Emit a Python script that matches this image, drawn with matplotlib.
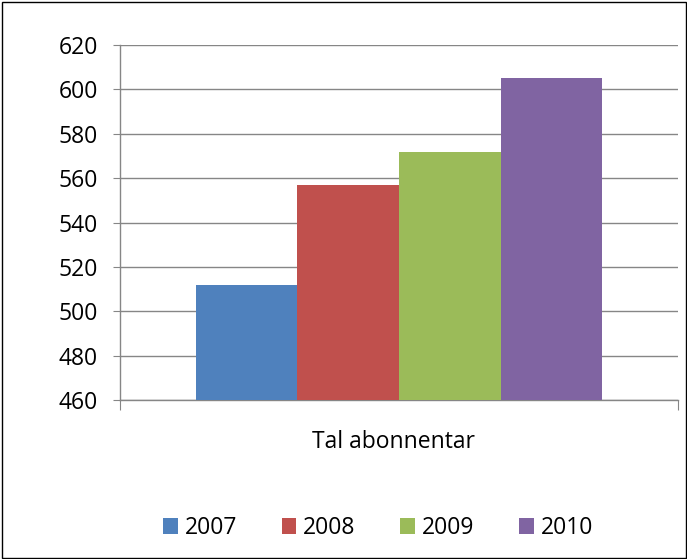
import matplotlib
matplotlib.use("Agg")
import matplotlib.pyplot as plt
from matplotlib.patches import Rectangle, Patch

ar = ["2007", "2008", "2009", "2010"]
verdiar = [512, 557, 572, 605]
fargar = ["#4f81bd", "#c0504d", "#9bbb59", "#8064a2"]
kategori = "Tal abonnentar"
yticks = [460, 480, 500, 520, 540, 560, 580, 600, 620]

plt.rcParams["font.family"] = ["Open Sans", "DejaVu Sans"]
fs = 16.5

W, H = 687, 559
fig = plt.figure(figsize=(W / 100, H / 100), dpi=100)
fig.patches.append(Rectangle((1.5 / W, 1.5 / H), 1 - 3 / W, 1 - 3 / H,
                             transform=fig.transFigure, fill=False,
                             edgecolor="#000000", linewidth=1.0))

ax = fig.add_axes([120 / W, 1 - 400 / H, 558 / W, 355 / H])

# stolpane fyller midten av kategorien
start, bredd = 0.136, 0.182
for i, (a, v) in enumerate(zip(ar, verdiar)):
    ax.bar(start + bredd * (i + 0.5), v - yticks[0], bottom=yticks[0],
           width=bredd, color=fargar[i], label=a, zorder=3)

ax.set_xlim(0, 1)
ax.set_ylim(yticks[0], yticks[-1])
ax.set_yticks(yticks)
ax.set_yticklabels([str(t) for t in yticks], fontsize=fs)
ax.set_xticks([0, 1])
ax.set_xticklabels(["", ""])
ax.grid(axis="y", color="#868686", linewidth=1.0, zorder=0)
for s in ["top", "right"]:
    ax.spines[s].set_visible(False)
for s in ["left", "bottom"]:
    ax.spines[s].set_color("#868686")
    ax.spines[s].set_linewidth(1.0)
ax.tick_params(axis="y", length=5, color="#868686", pad=11)
ax.tick_params(axis="x", length=7, color="#868686")

ax.text(0.49, -0.118, kategori, transform=ax.transAxes, ha="center",
        va="center", fontsize=fs)

handles = [Patch(facecolor=c, label=a) for a, c in zip(ar, fargar)]
fig.legend(handles=handles, loc="center", bbox_to_anchor=(378 / W, 1 - 528 / H),
           ncol=4, frameon=False, fontsize=fs, handlelength=0.65,
           handleheight=0.65, handletextpad=0.3, columnspacing=1.95)

fig.savefig("out.png", dpi=100)
